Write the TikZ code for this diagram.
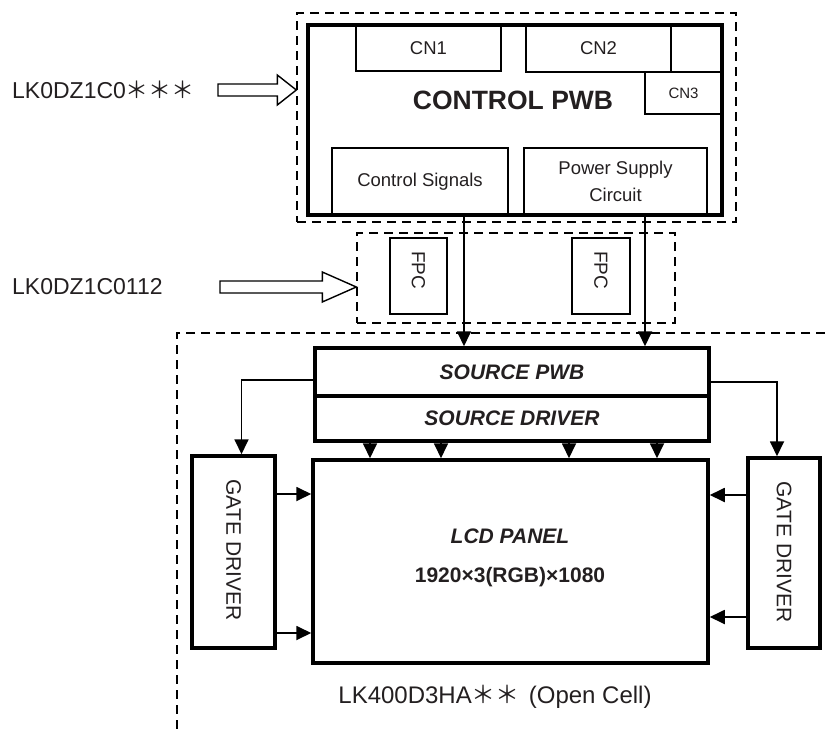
\documentclass[tikz,border=0pt]{standalone}
\usepackage{fontspec}
\setmainfont{Liberation Sans}
\newfontfamily\cjk{Noto Sans CJK JP}
\usetikzlibrary{arrows.meta,calc}
\definecolor{ink}{RGB}{35,31,32}
\newcommand\sz[1]{\fontsize{#1}{#1}\selectfont}
\newcommand\hollowarrow[3]{%
  \draw[hollow] ($(#1)+(0,6)$) -- ($(#2)+(-#3,6)$) -- ($(#2)+(-#3,15)$) -- (#2)
    -- ($(#2)+(-#3,-15)$) -- ($(#2)+(-#3,-6)$) -- ($(#1)+(0,-6)$) -- cycle;}
\tikzset{
  box/.style={draw, line width=1.6pt, inner sep=0pt, text=ink},
  boldbox/.style={draw, line width=3.5pt, inner sep=0pt, text=ink},
  dashbox/.style={draw, line width=1.4pt, dash pattern=on 9pt off 6pt, inner sep=0pt},
  wire/.style={line width=1.8pt, -{Triangle[length=15pt,width=14pt]}},
  hollow/.style={line width=1.4pt, fill=white},
  lbl/.style={text=ink, font=\sz{23}},
}
\begin{document}
\begin{tikzpicture}[x=1pt, y=-1pt, every node/.style={font=\sz{18.5}}]
\useasboundingbox (0,0) rectangle (825,731);
% control board
\node[dashbox, minimum width=439pt, minimum height=209pt] (ctrlouter) at (516.5,117.5) {};
\node[boldbox, minimum width=414pt, minimum height=190pt] (ctrl) at (515,120) {};
\node[box, minimum width=145pt, minimum height=46pt] (cn1) at (428.5,48) {CN1};
\node[box, minimum width=145pt, minimum height=47pt] (cn2) at (598.5,48.5) {CN2};
\node[box, minimum width=51pt, minimum height=47pt] (cnx) at (696.5,48.5) {};
\node[box, minimum width=77pt, minimum height=42pt, font=\sz{15}] (cn3) at (683.5,93) {CN3};
\node[text=ink, font=\sz{26.5}\bfseries] (ctrlname) at (513,100) {CONTROL PWB};
\node[box, minimum width=176pt, minimum height=67pt] (ctrlsig) at (420,181.5) {Control Signals};
\node[box, minimum width=183pt, minimum height=67pt, align=center, font=\fontsize{18.5}{27}\selectfont] (power) at (615.5,181.5) {Power Supply\\Circuit};
% fpc
\node[dashbox, minimum width=318pt, minimum height=90pt] (fpcouter) at (516,278) {};
\node[box, minimum width=57pt, minimum height=76pt] (fpcA) at (418.5,276) {};
\node[box, minimum width=58pt, minimum height=76pt] (fpcB) at (601,276) {};
\node[rotate=-90, text=ink, font=\sz{19}] (fpcAtxt) at (418.5,270) {FPC};
\node[rotate=-90, text=ink, font=\sz{19}] (fpcBtxt) at (601,270) {FPC};
% part numbers
\node[lbl, anchor=west, inner sep=0pt] (lab1) at (12,90) {LK0DZ1C0{\cjk ＊＊＊}};
\node[lbl, anchor=west, inner sep=0pt] (lab2) at (12,287) {LK0DZ1C0112};
\coordinate (t1) at (218,90);
\coordinate (t2) at (220,287);
\coordinate (in1) at (ctrlouter.west |- t1);
\coordinate (in2) at (fpcouter.west |- t2);
\hollowarrow{t1}{in1}{19}
\hollowarrow{t2}{in2}{34}
% open cell
\draw[line width=1.4pt, dash pattern=on 9pt off 6pt] (825,333) -| (177,731);
\node[boldbox, minimum width=394pt, minimum height=48pt, font=\sz{21}\bfseries\itshape] (srcpwb) at (512,372) {SOURCE PWB};
\node[boldbox, minimum width=394pt, minimum height=45pt, font=\sz{21}\bfseries\itshape] (srcdrv) at (512,418.5) {SOURCE DRIVER};
\node[boldbox, minimum width=395pt, minimum height=203pt] (lcd) at (510.5,561.5) {};
\node[text=ink, font=\sz{21}\bfseries\itshape] (lcdname) at (510,536) {LCD PANEL};
\node[text=ink, font=\sz{21}\bfseries] (lcdres) at (510,577) {1920×3(RGB)×1080};
\node[boldbox, minimum width=83pt, minimum height=192pt] (gateL) at (233.5,552) {};
\node[boldbox, minimum width=72pt, minimum height=190pt] (gateR) at (784,553) {};
\node[rotate=-90, text=ink, font=\sz{21}] (gateLtxt) at (233.5,550) {GATE DRIVER};
\node[rotate=-90, text=ink, font=\sz{21}] (gateRtxt) at (784,552) {GATE DRIVER};
\node[lbl, font=\sz{24}] (celllbl) at (495,697) {LK400D3HA{\cjk ＊＊}\hspace{9pt}(Open Cell)};
% signals
\coordinate (sigout) at (464,0);
\coordinate (pwrout) at (645,0);
\draw[wire] (sigout |- ctrl.south) -- (sigout |- srcpwb.north);
\draw[wire] (pwrout |- ctrl.south) -- (pwrout |- srcpwb.north);
\draw[wire] ([yshift=-8pt]srcpwb.west) -| ([xshift=8pt]gateL.north);
\draw[wire] ([yshift=-10pt]srcpwb.east) -| ([xshift=-7pt]gateR.north);
\foreach \x in {370,441,569,657}
  \draw[wire] (\x,0 |- srcdrv.south) -- (\x,0 |- lcd.north);
\foreach \y in {494,633}
  \draw[wire] (0,\y -| gateL.east) -- (0,\y -| lcd.west);
\foreach \y in {495,617}
  \draw[wire] (0,\y -| gateR.west) -- (0,\y -| lcd.east);
\end{tikzpicture}
\end{document}
